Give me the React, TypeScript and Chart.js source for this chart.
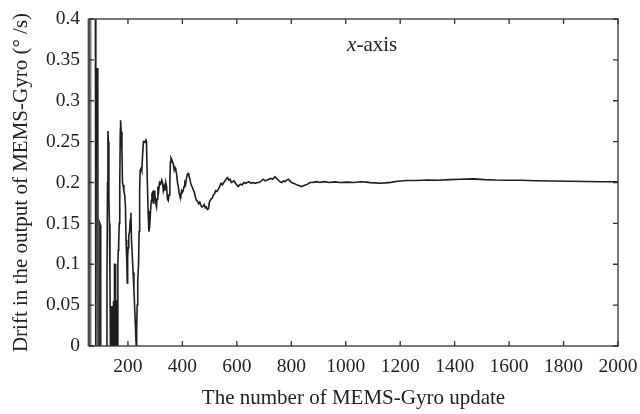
import { useEffect, useRef } from 'react';
import { Chart, registerables } from 'chart.js';

Chart.register(...registerables);

// Number of MEMS-Gyro update (x) and drift of the x-axis gyro output (°/s)
const updateIndex = [
  80, 82, 84, 85.5, 87, 88.5, 90, 90.5, 96, 97, 99, 100, 104,
  121, 123, 125, 126.5, 128, 130, 132, 134, 136, 139, 140, 142, 143, 146, 147, 149, 150,
  151, 152.5, 153.5, 156, 157, 158.5, 159.5, 161, 163, 164.5, 166, 168, 170, 172, 173,
  175, 178, 180, 182, 185, 188, 191, 193, 194.5, 196, 197.5, 199, 201, 203, 206, 209,
  211, 213, 216, 219, 222, 225, 228, 230.5, 232, 234, 236, 239, 241, 243, 245, 248, 251,
  254, 257, 262, 266, 268, 271, 274, 277, 280, 283, 286, 288, 291, 293, 295, 297, 299,
  302, 305, 307, 310, 313, 316, 320, 324, 327, 330, 333, 336, 339, 342, 345, 348, 351,
  354, 356, 358, 361, 364, 367, 370, 373, 376, 379, 382, 385, 388, 391, 394, 397, 400,
  403, 406, 409, 412, 415, 418, 421, 424, 427, 430, 434, 438, 441, 444, 448, 452, 456,
  460, 464, 468, 472, 476, 480, 484, 488, 492, 496, 499, 502, 506, 510, 514, 518, 522,
  527, 532, 537, 542, 547, 552, 557, 562, 566, 570, 575, 580, 585, 590, 595, 600, 605,
  610, 615, 620, 626, 632, 638, 645, 652, 660, 668, 675, 682, 690, 697, 704, 711, 718,
  725, 732, 740, 746, 752, 758, 765, 771, 777, 783, 789, 795, 801, 808, 815, 822, 830,
  838, 845, 852, 860, 868, 876, 885, 895, 905, 920, 940, 960, 980, 1005, 1030, 1055,
  1075, 1090, 1110, 1126, 1145, 1165, 1190, 1225, 1260, 1300, 1340, 1380, 1420, 1468,
  1510, 1550, 1600, 1641, 1700, 1760, 1820, 1880, 1940, 2000,
];

const driftX = [
  0.6, -0.05, 0.34, 0.29, 0.34, 0.285, 0.33, -0.05, -0.05, 0.15, 0.148, -0.05, -0.05,
  -0.05, 0.086, 0.2, 0.263, 0.25, 0.18, 0.15, 0.08, -0.02, -0.02, 0.048, 0.048, -0.02, -0.02, 0.055, 0.05, -0.02,
  0.1, 0.1, -0.02, -0.02, 0.056, 0.055, -0.02, 0.0, 0.1, 0.117, 0.125, 0.15, 0.2, 0.265, 0.276,
  0.262, 0.24, 0.2, 0.197, 0.19, 0.185, 0.17, 0.13, 0.109, 0.115, 0.077, 0.11, 0.12, 0.135, 0.14, 0.155,
  0.163, 0.13, 0.11, 0.09, 0.07, 0.045, 0.02, 0.0, 0.02, 0.05, 0.08, 0.1, 0.14, 0.19, 0.215, 0.217, 0.214,
  0.235, 0.25, 0.249, 0.252, 0.25, 0.205, 0.165, 0.14, 0.147, 0.165, 0.178, 0.186, 0.188, 0.175, 0.18, 0.19, 0.185,
  0.175, 0.17, 0.18, 0.195, 0.19, 0.2, 0.198, 0.203, 0.2, 0.19, 0.195, 0.19, 0.2, 0.195, 0.18, 0.178, 0.185,
  0.2, 0.225, 0.23, 0.228, 0.225, 0.222, 0.215, 0.218, 0.215, 0.21, 0.2, 0.195, 0.187, 0.183, 0.182, 0.19, 0.188,
  0.19, 0.195, 0.2, 0.198, 0.205, 0.21, 0.211, 0.208, 0.205, 0.2, 0.196, 0.193, 0.19, 0.188, 0.182, 0.178, 0.177,
  0.174, 0.176, 0.172, 0.17, 0.171, 0.173, 0.169, 0.17, 0.167, 0.168, 0.176, 0.178, 0.18, 0.181, 0.185, 0.186, 0.19,
  0.189, 0.192, 0.195, 0.199, 0.197, 0.2, 0.202, 0.205, 0.206, 0.203, 0.204, 0.2, 0.201, 0.202, 0.199, 0.197, 0.195,
  0.197, 0.198, 0.197, 0.2, 0.199, 0.2, 0.201, 0.199, 0.2, 0.199, 0.2, 0.2, 0.202, 0.204, 0.202, 0.203, 0.204,
  0.205, 0.204, 0.207, 0.205, 0.203, 0.201, 0.2, 0.202, 0.201, 0.203, 0.204, 0.202, 0.2, 0.199, 0.198, 0.197, 0.196,
  0.195, 0.196, 0.197, 0.198, 0.2, 0.2, 0.2005, 0.201, 0.2, 0.201, 0.2, 0.2008, 0.2, 0.2005, 0.2, 0.201,
  0.2005, 0.1998, 0.1995, 0.199, 0.1995, 0.2002, 0.2015, 0.2025, 0.2025, 0.203, 0.2028, 0.2035, 0.204, 0.2044,
  0.2035, 0.203, 0.2028, 0.2028, 0.2022, 0.2018, 0.2015, 0.2012, 0.201, 0.201,
];

const xTicks = [200, 400, 600, 800, 1000, 1200, 1400, 1600, 1800, 2000];
const yTicks = [0, 0.05, 0.1, 0.15, 0.2, 0.25, 0.3, 0.35, 0.4];
const xRange = [57, 2000];
const yRange = [0, 0.4];

const xTitle = 'The number of MEMS-Gyro update';
const yTitle = 'Drift in the output of MEMS-Gyro (° /s)';
const noteItalic = 'x';
const noteRest = '-axis';
const notePosition = [1005, 0.367];

const FONT = '"Liberation Serif", "Times New Roman", serif';

const framePlugin = {
  id: 'frameTicks',
  afterDatasetsDraw(chart: any) {
    const { ctx, chartArea: a, scales } = chart;
    const xs = scales.x;
    const ys = scales.y;
    ctx.save();
    // grey band along left edge
    ctx.strokeStyle = '#7a7a7a';
    ctx.lineWidth = 4;
    ctx.beginPath();
    ctx.moveTo(a.left + 0.5, a.top);
    ctx.lineTo(a.left + 0.5, a.bottom);
    ctx.stroke();
    // frame
    ctx.strokeStyle = '#333';
    ctx.lineWidth = 1.3;
    ctx.strokeRect(a.left, a.top, a.right - a.left, a.bottom - a.top);
    // inward ticks
    const L = 5;
    ctx.beginPath();
    for (const t of xs.ticks) {
      const px = xs.getPixelForValue(t.value);
      ctx.moveTo(px, a.bottom);
      ctx.lineTo(px, a.bottom - L);
      ctx.moveTo(px, a.top);
      ctx.lineTo(px, a.top + L);
    }
    for (const t of ys.ticks) {
      const py = ys.getPixelForValue(t.value);
      ctx.moveTo(a.left, py);
      ctx.lineTo(a.left + L, py);
      ctx.moveTo(a.right, py);
      ctx.lineTo(a.right - L, py);
    }
    ctx.stroke();
    // annotation
    const nx = xs.getPixelForValue(notePosition[0]);
    const ny = ys.getPixelForValue(notePosition[1]);
    ctx.fillStyle = '#222';
    ctx.textBaseline = 'middle';
    ctx.textAlign = 'left';
    ctx.font = `italic 21px ${FONT}`;
    ctx.fillText(noteItalic, nx, ny);
    const w = ctx.measureText(noteItalic).width;
    ctx.font = `21px ${FONT}`;
    ctx.fillText(noteRest, nx + w, ny);
    ctx.restore();
  },
};

export default function App() {
  const ref = useRef<HTMLCanvasElement>(null);
  useEffect(() => {
    document.body.style.margin = '0';
    const data = updateIndex.map((x, i) => ({ x, y: driftX[i] }));
    const chart = new Chart(ref.current!, {
      type: 'line',
      data: {
        datasets: [
          {
            data,
            borderColor: '#1e1e1e',
            borderWidth: 1.6,
            pointRadius: 0,
            tension: 0,
            fill: false,
            clip: 0,
          },
        ],
      },
      options: {
        animation: false,
        responsive: false,
        events: [],
        layout: { padding: { left: 0, right: 22, top: 19, bottom: 0 } },
        plugins: { legend: { display: false }, tooltip: { enabled: false } },
        scales: {
          x: {
            type: 'linear',
            min: xRange[0],
            max: xRange[1],
            grid: { display: false, drawTicks: false },
            border: { display: false },
            afterBuildTicks: (s: any) => {
              s.ticks = xTicks.map((v) => ({ value: v }));
            },
            afterFit: (s: any) => {
              s.height = 68;
              s.paddingLeft = 0;
              s.paddingRight = 0;
            },
            ticks: {
              autoSkip: false,
              maxRotation: 0,
              padding: 9,
              color: '#222',
              font: { family: FONT, size: 19.5 },
              callback: (v: any) => String(v),
            },
            title: {
              display: true,
              text: xTitle,
              color: '#222',
              font: { family: FONT, size: 21 },
              padding: { top: 0, bottom: 3 },
            },
          },
          y: {
            type: 'linear',
            min: yRange[0],
            max: yRange[1],
            grid: { display: false, drawTicks: false },
            border: { display: false },
            afterBuildTicks: (s: any) => {
              s.ticks = yTicks.map((v) => ({ value: v }));
            },
            afterFit: (s: any) => {
              s.width = 89;
              s.paddingTop = 0;
              s.paddingBottom = 0;
            },
            ticks: {
              autoSkip: false,
              padding: 9,
              color: '#222',
              font: { family: FONT, size: 19.5 },
              callback: (v: any) => String(+Number(v).toFixed(2)),
            },
            title: {
              display: true,
              text: yTitle,
              color: '#222',
              font: { family: FONT, size: 21 },
              padding: { top: 9, bottom: 0 },
            },
          },
        },
      },
      plugins: [framePlugin],
    });
    return () => chart.destroy();
  }, []);
  return (
    <div style={{ position: 'absolute', left: 0, top: 0, width: 640, height: 414, background: '#fff' }}>
      <canvas ref={ref} width={640} height={414} style={{ display: 'block' }} />
    </div>
  );
}
